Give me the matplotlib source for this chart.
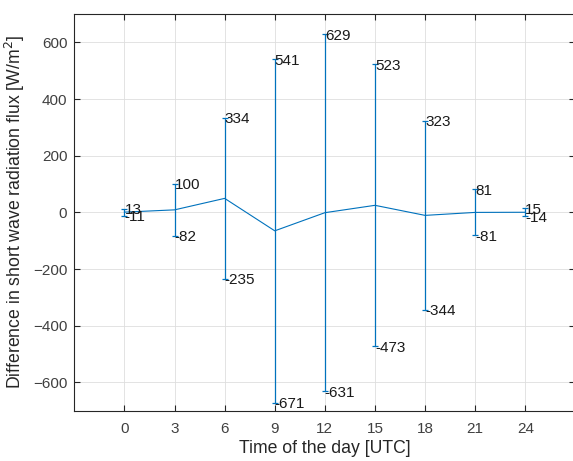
import matplotlib.pyplot as plt

plt.rcParams['font.family'] = ['Liberation Sans', 'DejaVu Sans']

# hours of the day and the error bar data
hours = [0, 3, 6, 9, 12, 15, 18, 21, 24]
mean_diff = [1, 9, 49.5, -65, -1, 25, -10.5, 0, 0.5]
upper = [13, 100, 334, 541, 629, 523, 323, 81, 15]
lower = [-11, -82, -235, -671, -631, -473, -344, -81, -14]

BLUE = '#0072BD'
AX_COLOR = '#262626'

fig = plt.figure(figsize=(5.73, 4.61), dpi=100)
# right spine sits just past the picture edge, as in the cropped original
ax = fig.add_axes([0.1297, 0.109, 0.8745, 0.8605])

err_low = [m - lo for m, lo in zip(mean_diff, lower)]
err_up = [up - m for m, up in zip(mean_diff, upper)]
ax.errorbar(hours, mean_diff, yerr=[err_low, err_up], color=BLUE, lw=0.8,
            elinewidth=0.9, capsize=2.5, capthick=0.9)

for h, up, lo in zip(hours, upper, lower):
    for v in (up, lo):
        ax.annotate(str(v), (h, v), xytext=(0, -1), textcoords='offset points',
                    ha='left', va='center', fontsize=11, color='#1a1a1a')

ax.set_xlim(-3, 27)
ax.set_ylim(-700, 700)
ax.set_xticks(hours)
ax.set_yticks(range(-600, 601, 200))
ax.grid(True, color='#dedede', lw=0.6)
ax.set_axisbelow(True)
ax.tick_params(direction='in', top=True, right=True, colors=AX_COLOR,
               labelcolor='#404040', labelsize=11, length=4)
ax.tick_params(axis='x', pad=8)
ax.tick_params(axis='y', pad=5)
for s in ax.spines.values():
    s.set_color(AX_COLOR)
    s.set_linewidth(0.8)

ax.set_xlabel('Time of the day [UTC]', fontsize=12.7, color=AX_COLOR, labelpad=3)
ax.set_ylabel('Difference in short wave radiation flux [W/m$^2$]', fontsize=12.7,
              color=AX_COLOR)

fig.savefig('out.png', dpi=100)
